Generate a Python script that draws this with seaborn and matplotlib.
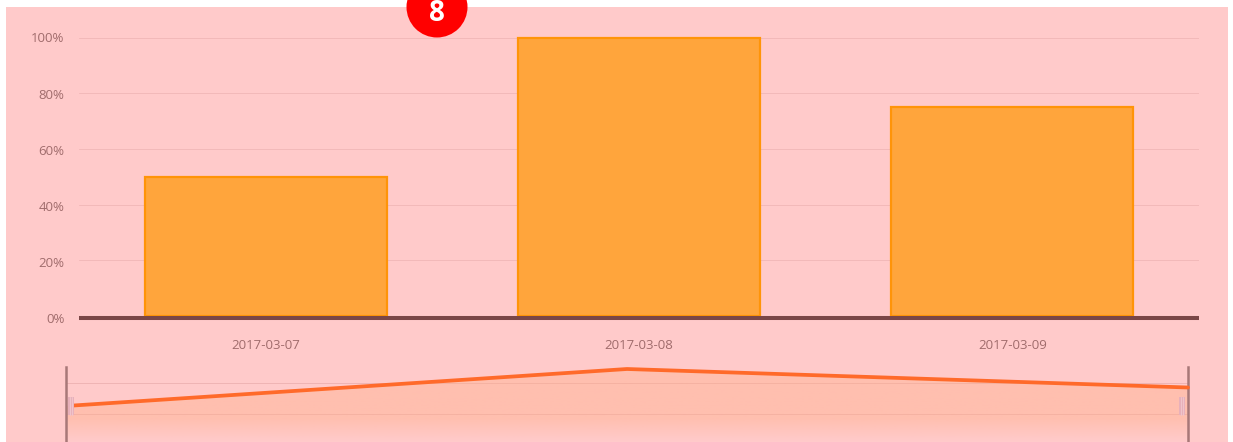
import matplotlib
matplotlib.use("Agg")
import matplotlib.pyplot as plt
import matplotlib.patches as mpatches
import matplotlib.ticker as mtick
from matplotlib.transforms import ScaledTranslation
import numpy as np
import pandas as pd
import seaborn as sns

dates = ["2017-03-07", "2017-03-08", "2017-03-09"]
values = [50, 100, 75]
y_ticks = [0, 20, 40, 60, 80, 100]
mini_grid = [39.5, 81.4]
badge = "8"

W, H = 1233, 442
PINK = "#ffcaca"
TEXT = "#a06c6c"

sns.set_theme(style="white")
plt.rcParams["font.family"] = ["Open Sans", "DejaVu Sans"]


def box(left, top, right, bottom):
    return [left / W, 1 - bottom / H, (right - left) / W, (bottom - top) / H]


df = pd.DataFrame({"date": dates, "value": values})

fig = plt.figure(figsize=(W / 100, H / 100), dpi=100, facecolor="white")
fig.add_artist(mpatches.Rectangle((6 / W, 0), 1222 / W, 435 / H, transform=fig.transFigure,
                                  facecolor=PINK, edgecolor="none", zorder=-5))

# main bars
ax = fig.add_axes(box(79, 37.5, 1199, 316))
ax.patch.set_visible(False)
sns.barplot(data=df, x="date", y="value", ax=ax, width=0.648, color="#ffa53c", saturation=1,
            edgecolor="#ff9408", linewidth=1.6, zorder=3)
ax.set_xlim(-0.5, 2.5)
ax.set_ylim(0, 100)
ax.set_xlabel("")
ax.set_ylabel("")
ax.set_yticks(y_ticks)
ax.yaxis.set_major_formatter(mtick.FuncFormatter(lambda v, _: f"{v:.0f}%"))
ax.grid(axis="y", color="#f2b9b9", linewidth=0.72)
ax.set_axisbelow(True)
ax.tick_params(axis="x", length=0, pad=15, labelsize=9.5, labelcolor=TEXT)
ax.tick_params(axis="y", length=0, pad=10.5, labelsize=9.5, labelcolor=TEXT)
for side in ["top", "left", "right"]:
    ax.spines[side].set_visible(False)
ax.spines["bottom"].set_color("#7a4646")
ax.spines["bottom"].set_linewidth(2.9)
ax.spines["bottom"].set_position(("outward", 1.5))
ax.spines["bottom"].set_capstyle("butt")
ax.spines["bottom"].set_zorder(5)
for bar in ax.patches:
    bar.set_clip_on(False)

# tick labels run on a slightly wider step than the gridlines
for tick, lab in zip(y_ticks, ax.get_yticklabels()):
    shift = -(100 - tick) / 100 * 2 / 100
    lab.set_transform(lab.get_transform() + ScaledTranslation(0, shift, fig.dpi_scale_trans))

# overview strip
mini = fig.add_axes(box(66, 367, 1188, 442))
mini.patch.set_visible(False)
pos = np.arange(len(values))
sns.lineplot(x=pos, y=values, ax=mini, color="#ff6a2a", linewidth=2.7, zorder=4)
mini.set_xticks([])
mini.set_yticks(mini_grid)
mini.set_yticklabels([])
mini.set_xlabel("")
mini.set_ylabel("")
mini.grid(axis="y", color="#efb4b4", linewidth=0.72)
mini.tick_params(length=0)
for side in ["top", "bottom"]:
    mini.spines[side].set_visible(False)
for side in ["left", "right"]:
    mini.spines[side].set_color("#a87878")
    mini.spines[side].set_linewidth(1.8)

# line starts right of the left handle
mini.lines[0].set_clip_path(mpatches.Rectangle((8 / 561, 0), 2, 110, transform=mini.transData))

# area stays flat, then fades out in the lowest part
alpha = np.clip(np.linspace(1.35, -0.02, 100), 0, 0.42)[:, None]
grad = np.zeros((100, 2, 4))
grad[..., :3] = matplotlib.colors.to_rgb("#ffb08a")
grad[..., 3] = np.repeat(alpha, 2, axis=1)
img = mini.imshow(grad, extent=[0, 2, 1.35, 100], origin="upper", aspect="auto", zorder=1)
area = mini.fill_between(pos, values, 1.35, color="none")
img.set_clip_path(area.get_paths()[0], transform=mini.transData)
mini.set_xlim(0, 2)
mini.set_ylim(1.35, 102.7)

# drag handles
for left in [68, 1179]:
    fig.add_artist(mpatches.Rectangle((left / W, 1 - 415 / H), 6 / W, 18 / H, transform=fig.transFigure,
                                      facecolor="#e8b0ba", edgecolor="none", zorder=6))
    for dx in [1.5, 3.5]:
        fig.add_artist(plt.Line2D([(left + dx) / W] * 2, [1 - 415 / H, 1 - 397 / H], color="#f0c4ca",
                                  linewidth=0.72, zorder=7))

# badge
fig.add_artist(mpatches.Ellipse((437 / W, 1 - 7 / H), 61 / W, 61 / H, transform=fig.transFigure,
                                facecolor="#ff0000", edgecolor="none", zorder=10))
fig.text(437 / W, 1 - 21 / H, badge, color="white", fontsize=20, fontweight="bold",
         ha="center", va="baseline", zorder=11)

fig.savefig("out.png", dpi=100)
